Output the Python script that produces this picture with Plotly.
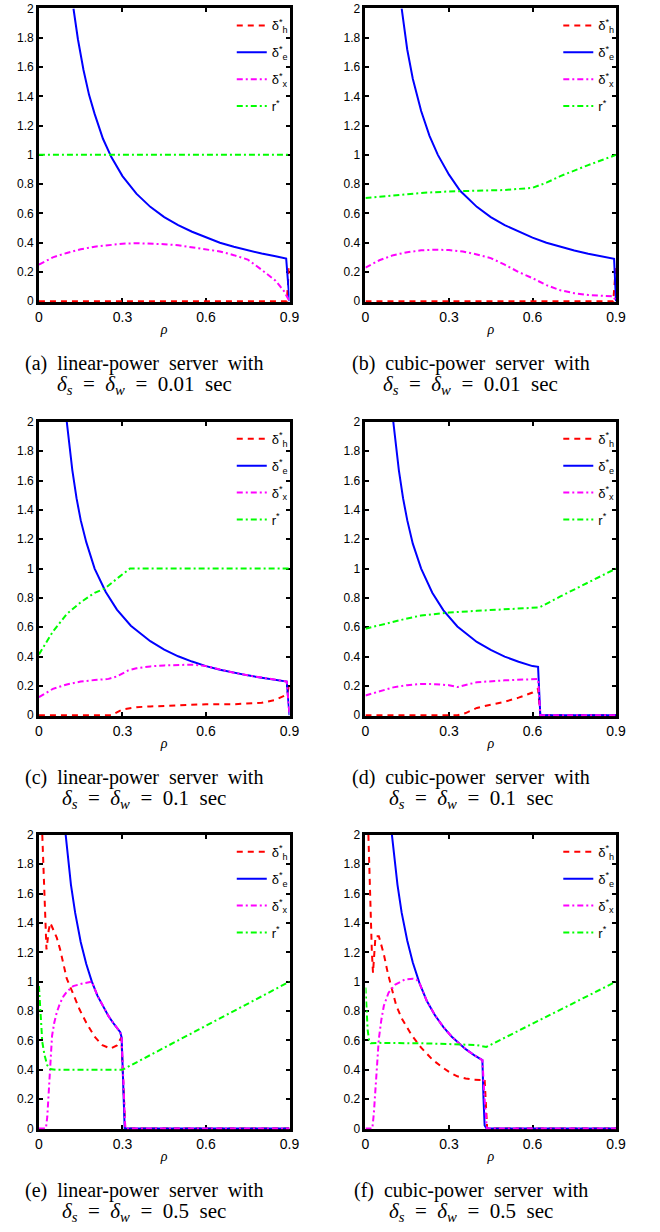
import plotly.graph_objects as go

# ---------------------------------------------------------------------------
# Optimal settings versus load rho for six server configurations
# ---------------------------------------------------------------------------

# (a) linear-power server, delta_s = delta_w = 0.01 sec
a_h_rho = [0, 0.89, 0.9]
a_h = [0, 0, 0.25]
a_e_rho = [0.124, 0.14, 0.16, 0.18, 0.2, 0.23, 0.26, 0.3, 0.35, 0.4, 0.45,
           0.5, 0.55, 0.6, 0.65, 0.7, 0.75, 0.8, 0.85, 0.888, 0.9]
a_e = [2.0, 1.79, 1.58, 1.41, 1.28, 1.11, 0.985, 0.855, 0.735, 0.645, 0.575,
       0.52, 0.475, 0.435, 0.40, 0.372, 0.348, 0.326, 0.307, 0.292, 0.0]
a_x_rho = [0, 0.05, 0.1, 0.15, 0.2, 0.25, 0.3, 0.35, 0.4, 0.45, 0.5, 0.55,
           0.6, 0.65, 0.7, 0.75, 0.8, 0.85, 0.88, 0.9]
a_x = [0.25, 0.30, 0.33, 0.355, 0.373, 0.385, 0.393, 0.397, 0.395, 0.39,
       0.383, 0.37, 0.355, 0.34, 0.315, 0.285, 0.215, 0.14, 0.07, 0.0]
a_r_rho = [0, 0.9]
a_r = [1.0, 1.0]

# (b) cubic-power server, delta_s = delta_w = 0.01 sec
b_h_rho = [0, 0.89, 0.9]
b_h = [0, 0, 0.25]
b_e_rho = [0.13, 0.15, 0.17, 0.2, 0.23, 0.26, 0.3, 0.34, 0.4, 0.45, 0.5,
           0.55, 0.6, 0.65, 0.7, 0.75, 0.8, 0.85, 0.893, 0.9]
b_e = [2.0, 1.72, 1.52, 1.30, 1.13, 1.0, 0.865, 0.755, 0.645, 0.575, 0.52,
       0.475, 0.435, 0.40, 0.372, 0.347, 0.325, 0.306, 0.29, 0.0]
b_x_rho = [0, 0.05, 0.1, 0.15, 0.2, 0.25, 0.3, 0.35, 0.4, 0.45, 0.5, 0.55,
           0.6, 0.65, 0.7, 0.75, 0.8, 0.85, 0.89, 0.9]
b_x = [0.23, 0.28, 0.315, 0.335, 0.348, 0.352, 0.35, 0.34, 0.32, 0.295,
       0.25, 0.20, 0.158, 0.11, 0.075, 0.055, 0.043, 0.037, 0.033, 0.0]
b_r_rho = [0, 0.1, 0.2, 0.3, 0.4, 0.5, 0.6, 0.65, 0.7, 0.75, 0.8, 0.85, 0.9]
b_r = [0.705, 0.725, 0.74, 0.75, 0.755, 0.76, 0.775, 0.81, 0.855, 0.895,
       0.93, 0.965, 1.0]

# (c) linear-power server, delta_s = delta_w = 0.1 sec
c_h_rho = [0, 0.26, 0.3, 0.35, 0.4, 0.5, 0.6, 0.7, 0.75, 0.8, 0.85, 0.89, 0.9]
c_h = [0, 0, 0.04, 0.055, 0.06, 0.07, 0.075, 0.075, 0.078, 0.085, 0.105,
       0.14, 0.2]
c_e_rho = [0.1, 0.11, 0.12, 0.135, 0.15, 0.17, 0.2, 0.24, 0.28, 0.33, 0.4,
           0.45, 0.5, 0.55, 0.6, 0.65, 0.7, 0.75, 0.8, 0.85, 0.89, 0.9]
c_e = [2.0, 1.82, 1.67, 1.48, 1.33, 1.18, 1.0, 0.84, 0.72, 0.61, 0.505,
       0.448, 0.402, 0.366, 0.335, 0.31, 0.29, 0.272, 0.256, 0.242, 0.23, 0.0]
c_x_rho = [0, 0.05, 0.1, 0.15, 0.2, 0.25, 0.28, 0.32, 0.35, 0.4, 0.45, 0.5,
           0.55, 0.6, 0.65, 0.7, 0.75, 0.8, 0.85, 0.89, 0.9]
c_x = [0.123, 0.18, 0.21, 0.23, 0.24, 0.248, 0.265, 0.305, 0.32, 0.333,
       0.34, 0.343, 0.345, 0.335, 0.31, 0.29, 0.272, 0.256, 0.242, 0.23, 0.0]
c_r_rho = [0, 0.05, 0.1, 0.15, 0.2, 0.236, 0.286, 0.327, 0.9]
c_r = [0.415, 0.57, 0.69, 0.77, 0.835, 0.863, 0.94, 1.0, 1.0]

# (d) cubic-power server, delta_s = delta_w = 0.1 sec
d_h_rho = [0, 0.33, 0.36, 0.4, 0.45, 0.5, 0.55, 0.6, 0.62, 0.628, 0.9]
d_h = [0, 0, 0.015, 0.05, 0.072, 0.092, 0.12, 0.155, 0.18, 0.0, 0.0]
d_e_rho = [0.1, 0.11, 0.12, 0.135, 0.15, 0.17, 0.2, 0.24, 0.28, 0.33, 0.4,
           0.45, 0.5, 0.55, 0.6, 0.62, 0.628, 0.9]
d_e = [2.0, 1.82, 1.67, 1.48, 1.33, 1.17, 1.0, 0.835, 0.715, 0.605, 0.50,
       0.445, 0.40, 0.365, 0.335, 0.33, 0.0, 0.0]
d_x_rho = [0, 0.05, 0.1, 0.15, 0.2, 0.25, 0.3, 0.33, 0.36, 0.4, 0.5, 0.55,
           0.62, 0.628, 0.9]
d_x = [0.135, 0.165, 0.19, 0.205, 0.213, 0.212, 0.205, 0.192, 0.205, 0.225,
       0.238, 0.243, 0.247, 0.0, 0.0]
d_r_rho = [0, 0.05, 0.1, 0.15, 0.2, 0.25, 0.3, 0.4, 0.5, 0.6, 0.625, 0.7,
           0.8, 0.9]
d_r = [0.59, 0.615, 0.64, 0.66, 0.68, 0.69, 0.70, 0.712, 0.722, 0.732,
       0.735, 0.81, 0.905, 1.0]

# (e) linear-power server, delta_s = delta_w = 0.5 sec
e_h_rho = [0.012, 0.018, 0.023, 0.027, 0.031, 0.035, 0.041, 0.05, 0.064,
           0.076, 0.1, 0.12, 0.146, 0.17, 0.2, 0.228, 0.257, 0.28, 0.296,
           0.31, 0.9]
e_h = [2.0, 1.7, 1.45, 1.22, 1.28, 1.35, 1.40, 1.36, 1.30, 1.22, 1.02, 0.93,
       0.81, 0.72, 0.625, 0.567, 0.544, 0.565, 0.62, 0.0, 0.0]
e_e_rho = [0.096, 0.105, 0.115, 0.13, 0.15, 0.17, 0.19, 0.21, 0.23, 0.25,
           0.27, 0.285, 0.292, 0.297, 0.303, 0.308, 0.9]
e_e = [2.0, 1.82, 1.66, 1.47, 1.27, 1.12, 1.0, 0.905, 0.83, 0.765, 0.71,
       0.675, 0.656, 0.62, 0.3, 0.0, 0.0]
e_x_rho = [0, 0.025, 0.03, 0.035, 0.04, 0.047, 0.055, 0.064, 0.075, 0.088,
           0.1, 0.123, 0.158, 0.19, 0.21, 0.23, 0.25, 0.27, 0.285, 0.292,
           0.297, 0.303, 0.31, 0.9]
e_x = [0, 0, 0.08, 0.25, 0.4, 0.63, 0.72, 0.79, 0.85, 0.9, 0.93, 0.97, 0.988,
       1.0, 0.905, 0.83, 0.765, 0.71, 0.675, 0.656, 0.62, 0.3, 0.0, 0.0]
e_r_rho = [0, 0.005, 0.012, 0.02, 0.03, 0.04, 0.06, 0.3, 0.9]
e_r = [0.97, 0.78, 0.59, 0.5, 0.43, 0.405, 0.4, 0.4, 1.0]

# (f) cubic-power server, delta_s = delta_w = 0.5 sec
f_h_rho = [0.0105, 0.0187, 0.023, 0.027, 0.031, 0.036, 0.048, 0.0656, 0.08,
           0.096, 0.11, 0.131, 0.166, 0.2, 0.24, 0.272, 0.3, 0.33, 0.36, 0.39,
           0.42, 0.428, 0.437, 0.9]
f_h = [2.0, 1.37, 1.2, 1.06, 1.18, 1.31, 1.31, 1.19, 1.06, 0.95, 0.84, 0.747,
       0.635, 0.55, 0.47, 0.422, 0.385, 0.355, 0.34, 0.332, 0.33, 0.335, 0.0,
       0.0]
f_e_rho = [0.095, 0.105, 0.115, 0.13, 0.15, 0.17, 0.194, 0.22, 0.25, 0.28,
           0.31, 0.33, 0.36, 0.39, 0.42, 0.424, 0.428, 0.435, 0.9]
f_e = [2.0, 1.81, 1.66, 1.47, 1.28, 1.13, 0.99, 0.87, 0.77, 0.69, 0.625,
       0.59, 0.54, 0.5, 0.465, 0.2, 0.02, 0.0, 0.0]
f_x_rho = [0, 0.0246, 0.03, 0.036, 0.042, 0.048, 0.057, 0.066, 0.083, 0.107,
           0.142, 0.17, 0.183, 0.194, 0.22, 0.25, 0.28, 0.31, 0.33, 0.36,
           0.39, 0.42, 0.428, 0.436, 0.9]
f_x = [0, 0, 0.1, 0.253, 0.44, 0.61, 0.74, 0.836, 0.925, 0.98, 1.015, 1.02,
       1.015, 0.99, 0.87, 0.77, 0.69, 0.625, 0.59, 0.54, 0.5, 0.465, 0.2,
       0.0, 0.0]
f_r_rho = [0, 0.004, 0.008, 0.013, 0.019, 0.05, 0.1, 0.2, 0.3, 0.4, 0.434,
           0.9]
f_r = [0.96, 0.8, 0.67, 0.6, 0.58, 0.583, 0.583, 0.58, 0.575, 0.568, 0.555,
       1.0]

# Captions under each panel
caption_head = ["(a) linear-power server with", "(b) cubic-power server with",
                "(c) linear-power server with", "(d) cubic-power server with",
                "(e) linear-power server with", "(f) cubic-power server with"]
caption_delta = ["0.01", "0.01", "0.1", "0.1", "0.5", "0.5"]

# Series labels and styles
series_names = ["δ<sup>*</sup><sub>h</sub>", "δ<sup>*</sup><sub>e</sub>",
                "δ<sup>*</sup><sub>x</sub>", "r<sup>*</sup>"]
series_colors = ["#ff0000", "#0000ff", "#ff00ff", "#00ff00"]
series_dash = ["6px,5px", "solid", "6px,3px,2px,3px", "6px,3px,2px,3px"]

# Axis ticks
x_tick_vals = [0, 0.3, 0.6, 0.9]
x_tick_text = ["0", "0.3", "0.6", "0.9"]
y_tick_vals = [0, 0.2, 0.4, 0.6, 0.8, 1.0, 1.2, 1.4, 1.6, 1.8, 2.0]
y_tick_text = ["0", "0.2", "0.4", "0.6", "0.8", "1", "1.2", "1.4", "1.6",
               "1.8", "2"]

panels = [
    [(a_h_rho, a_h), (a_e_rho, a_e), (a_x_rho, a_x), (a_r_rho, a_r)],
    [(b_h_rho, b_h), (b_e_rho, b_e), (b_x_rho, b_x), (b_r_rho, b_r)],
    [(c_h_rho, c_h), (c_e_rho, c_e), (c_x_rho, c_x), (c_r_rho, c_r)],
    [(d_h_rho, d_h), (d_e_rho, d_e), (d_x_rho, d_x), (d_r_rho, d_r)],
    [(e_h_rho, e_h), (e_e_rho, e_e), (e_x_rho, e_x), (e_r_rho, e_r)],
    [(f_h_rho, f_h), (f_e_rho, f_e), (f_x_rho, f_x), (f_r_rho, f_r)],
]

# ---------------------------------------------------------------------------
# Page geometry (pixels)
# ---------------------------------------------------------------------------
W, H = 660, 1232
COLS = [(35.7, 291.7), (369.3, 625.3)]
ROWS = [(1.5, 298.3), (419.3, 716.7), (836.7, 1134.3)]
CAPTION_CX = [143.3, 477.0]
CAPTION_DY = (61.7, 83.7)
Y_RANGE = [-0.006, 2.0]   # tiny pad so lines lying on zero stay visible

SANS = "Liberation Sans, Arial, sans-serif"
SERIF = "Liberation Serif, Times New Roman, serif"


def px_x(v):
    return v / W


def px_y(v):
    return 1 - v / H


fig = go.Figure()
layout = dict(
    width=W, height=H,
    margin=dict(l=0, r=0, t=0, b=0),
    paper_bgcolor="white", plot_bgcolor="white",
    font=dict(family=SANS, size=12, color="black"),
    annotations=[],
)

for i, series in enumerate(panels):
    r, c = divmod(i, 2)
    n = "" if i == 0 else str(i + 1)
    x0, x1 = COLS[c]
    y0, y1 = ROWS[r]
    leg = "legend" + n

    for k, (rho, vals) in enumerate(series):
        fig.add_trace(go.Scatter(
            x=rho, y=vals, mode="lines",
            name=series_names[k],
            legend=leg, legendgroup=f"{i}-{k}",
            line=dict(color=series_colors[k], width=2, dash=series_dash[k]),
            xaxis="x" + n, yaxis="y" + n,
            hoverinfo="skip",
        ))

    axis_common = dict(
        ticks="inside", ticklen=4, tickwidth=1.5, tickcolor="black",
        showline=True, linecolor="black", linewidth=2.8, mirror="ticks",
        showgrid=False, zeroline=False, layer="below traces",
        fixedrange=True,
    )
    layout["xaxis" + n] = dict(
        axis_common,
        domain=[px_x(x0), px_x(x1)], range=[0, 0.9],
        tickvals=x_tick_vals, ticktext=x_tick_text,
        tickfont=dict(family=SANS, size=14, color="black"),
        anchor="y" + n,
        title=dict(text="<i>ρ</i>", font=dict(family=SERIF, size=14),
                   standoff=1),
    )
    layout["yaxis" + n] = dict(
        axis_common,
        domain=[px_y(y1), px_y(y0)], range=Y_RANGE,
        tickvals=y_tick_vals, ticktext=y_tick_text,
        tickfont=dict(family=SANS, size=12, color="black"),
        anchor="x" + n,
    )
    layout[leg] = dict(
        x=px_x(x1 - 59), xanchor="left",
        y=px_y(y0 + 2), yanchor="top",
        bgcolor="rgba(0,0,0,0)", borderwidth=0,
        font=dict(family=SANS, size=13, color="black"),
        tracegroupgap=7, traceorder="grouped",
        itemclick=False, itemdoubleclick=False,
    )

    cx = CAPTION_CX[c]
    layout["annotations"].append(dict(
        xref="paper", yref="paper", x=px_x(cx), y=px_y(y1 + CAPTION_DY[0]),
        xanchor="center", yanchor="middle", showarrow=False,
        text=caption_head[i].replace(" ", "\u2002"),
        font=dict(family=SERIF, size=20, color="black"),
    ))
    layout["annotations"].append(dict(
        xref="paper", yref="paper", x=px_x(cx), y=px_y(y1 + CAPTION_DY[1]),
        xanchor="center", yanchor="middle", showarrow=False,
        text=("<i>δ</i><sub><i>s</i></sub>\u2002=\u2002<i>δ</i>"
              "<sub><i>w</i></sub>\u2002=\u2002" + caption_delta[i]
              + "\u2002sec"),
        font=dict(family=SERIF, size=21, color="black"),
    ))

fig.update_layout(**layout)
fig.write_html("out.html")
